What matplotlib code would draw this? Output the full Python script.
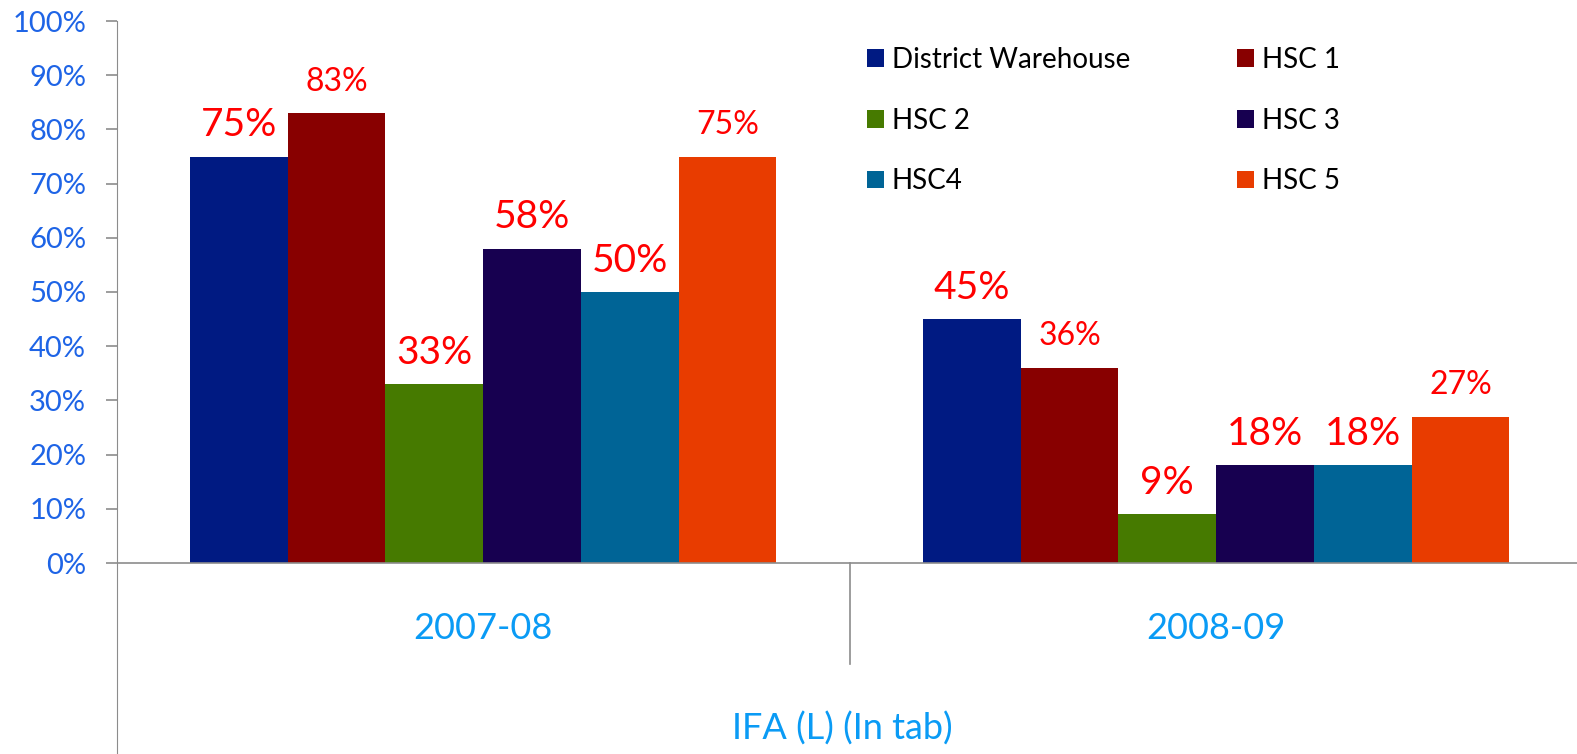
import numpy as np
import matplotlib
matplotlib.use('Agg')
import matplotlib.pyplot as plt

plt.rcParams['font.family'] = ['Lato', 'DejaVu Sans']

years = ['2007-08', '2008-09']
series = ['District Warehouse', 'HSC 1', 'HSC 2', 'HSC 3', 'HSC4', 'HSC 5']
values = [
    [0.75, 0.45],
    [0.83, 0.36],
    [0.33, 0.09],
    [0.58, 0.18],
    [0.50, 0.18],
    [0.75, 0.27],
]
colors = ['#001a82', '#880000', '#467a00', '#170050', '#006496', '#e83c00']
label_sizes = [28, 23, 28, 28, 28, 23]
xlabel = 'IFA (L) (In tab)'

W, H = 1577, 754
fig = plt.figure(figsize=(W / 100, H / 100), dpi=100)
left = 116.7 / W
cat_px = 733
ax = fig.add_axes([left, 0, 2 * cat_px / W, 1 - 21 / H])

ymin = -(H - 563) / 542
ax.set_ylim(ymin, 1.0)
ax.set_xlim(-0.5, 1.5)

x = np.arange(len(years))
bw = 0.8 / len(series)
handles = []
for i, (name, vals) in enumerate(zip(series, values)):
    pos = x - 0.4 + bw * (i + 0.5)
    b = ax.bar(pos, vals, bw, color=colors[i], label=name, zorder=3)
    handles.append(b)
    for p, v in zip(pos, vals):
        ax.text(p, v + 0.058, f'{v * 100:.0f}%', ha='center', va='center',
                color='#ff0000', fontsize=label_sizes[i])

grey = '#8c8c8c'
for s in ['top', 'right', 'bottom']:
    ax.spines[s].set_visible(False)
ax.spines['left'].set_color(grey)
ax.axhline(0, color=grey, lw=1.2, zorder=4)
ax.plot([0.5, 0.5], [0, -0.186], color=grey, lw=1.2, clip_on=False)

yt = np.arange(0, 1.01, 0.1)
ax.set_yticks(yt)
ax.set_yticklabels([f'{t * 100:.0f}%' for t in yt])
ax.tick_params(axis='y', colors=grey, labelcolor='#1e64e6', labelsize=21,
               length=8, width=1.2, pad=14)
ax.set_xticks([])

for xi, yr in zip(x, years):
    ax.text(xi, -0.121, yr, ha='center', va='center', color='#0a9bf5', fontsize=26)
ax.text(0.49, -0.305, xlabel, ha='center', va='center', color='#0a9bf5', fontsize=26)

order = [0, 2, 4, 1, 3, 5]
leg = ax.legend([handles[k] for k in order], [series[k] for k in order],
                ncol=2, frameon=False, fontsize=20, loc='upper left',
                bbox_to_anchor=(842 / W, 1 - 22 / H), bbox_transform=fig.transFigure,
                handlelength=0.6, handleheight=0.6, handletextpad=0.3,
                labelspacing=1.25, columnspacing=3.85)

fig.savefig('out.png', dpi=100)
